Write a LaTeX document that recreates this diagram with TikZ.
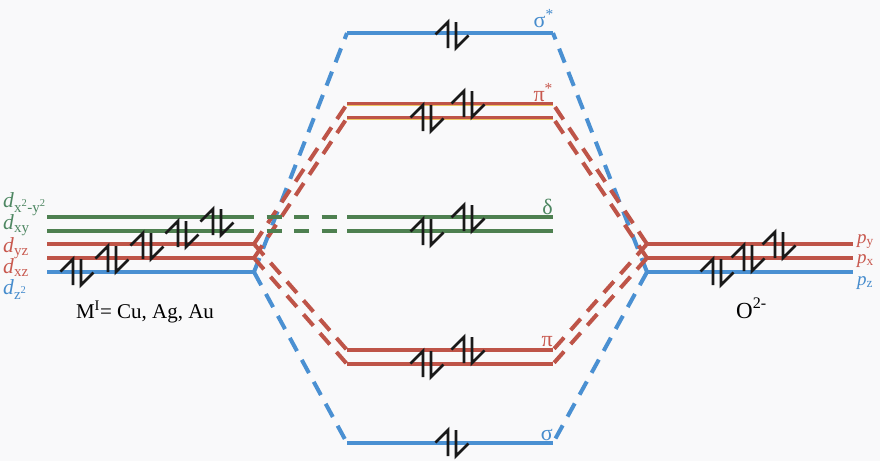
\documentclass[tikz,border=0pt]{standalone}
\usepackage{fontspec}
\setmainfont{Liberation Serif}
\definecolor{bgc}{RGB}{249,249,250}
\definecolor{obl}{RGB}{74,144,210}
\definecolor{ored}{RGB}{190,84,72}
\definecolor{ogr}{RGB}{78,128,80}
\definecolor{oyel}{RGB}{236,196,96}
\definecolor{tgr}{RGB}{78,135,98}
\definecolor{tred}{RGB}{200,88,78}
\definecolor{tbl}{RGB}{70,140,205}
\definecolor{ebk}{RGB}{25,25,25}
\tikzset{
  lvl/.style={line width=4pt},
  conn/.style={line width=4pt, dash pattern=on 15pt off 10pt},
  gconn/.style={line width=4pt, ogr, dash pattern=on 15pt off 12.5pt, dash phase=15pt},
  eline/.style={line width=2.7pt, ebk, line join=miter},
  pics/epair/.style={code={
    \draw[eline] (-4,13) -- (-4,-13) -- (-16.5,-0.5);
    \draw[eline] (4,-13) -- (4,13) -- (16.5,0.5);
  }},
  glab/.style={inner sep=0pt, font=\fontsize{22}{24}\selectfont, anchor=base east},
  olab/.style={inner sep=0pt, font=\fontsize{21.5}{23}\selectfont},
  plab/.style={inner sep=0pt, font=\fontsize{19}{21}\selectfont, anchor=base west},
  txt/.style={inner sep=0pt, font=\fontsize{21}{23}\selectfont},
}
\begin{document}
\begin{tikzpicture}[x=1pt,y=-1pt]
\fill[bgc] (0,0) rectangle (880,461);
\useasboundingbox (0,0) rectangle (880,461);
% left AO ends
\coordinate (Lx2s) at (47,217); \coordinate (Lx2) at (254,217);
\coordinate (Lxys) at (47,231); \coordinate (Lxy) at (254,231);
\coordinate (Lyzs) at (47,244); \coordinate (Lyz) at (254,244);
\coordinate (Lxzs) at (47,258); \coordinate (Lxz) at (254,258);
\coordinate (Lz2s) at (47,272); \coordinate (Lz2) at (254,272);
% MO ends
\coordinate (SSl) at (347,33);  \coordinate (SSr) at (553,33);
\coordinate (PSAl) at (347,104); \coordinate (PSAr) at (553,104);
\coordinate (PSBl) at (347,118); \coordinate (PSBr) at (553,118);
\coordinate (DAl) at (347,217); \coordinate (DAr) at (553,217);
\coordinate (DBl) at (347,231); \coordinate (DBr) at (553,231);
\coordinate (PAl) at (347,350); \coordinate (PAr) at (553,350);
\coordinate (PBl) at (347,364); \coordinate (PBr) at (553,364);
\coordinate (Sl) at (347,443);  \coordinate (Sr) at (553,443);
% right AO ends
\coordinate (Rys) at (853,244); \coordinate (Ry) at (647,244);
\coordinate (Rxs) at (853,258); \coordinate (Rx) at (647,258);
\coordinate (Rzs) at (853,272); \coordinate (Rz) at (647,272);

% dashed correlation lines
\draw[conn, obl] (Lz2) -- (SSl);
\draw[conn, obl] (Lz2) -- (Sl);
\draw[conn, obl] (Rz) -- (SSr);
\draw[conn, obl] (Rz) -- (Sr);
\draw[conn, ored] (Lyz) -- (PSAl);
\draw[conn, ored] (Lxz) -- (PSBl);
\draw[conn, ored] (Lyz) -- (PAl);
\draw[conn, ored] (Lxz) -- (PBl);
\draw[conn, ored] (Ry) -- (PSAr);
\draw[conn, ored] (Rx) -- (PSBr);
\draw[conn, ored] (Ry) -- (PAr);
\draw[conn, ored] (Rx) -- (PBr);
\draw[gconn] (Lx2) -- (DAl);
\draw[gconn] (Lxy) -- (DBl);

% levels
\draw[lvl, ogr] (Lx2s) -- (Lx2);
\draw[lvl, ogr] (Lxys) -- (Lxy);
\draw[lvl, ored] (Lyzs) -- (Lyz);
\draw[lvl, ored] (Lxzs) -- (Lxz);
\draw[lvl, obl] (Lz2s) -- (Lz2);
\draw[lvl, obl] (SSl) -- (SSr);
\draw[lvl, ored] (PSAl) -- (PSAr);
\draw[lvl, ored] (PSBl) -- (PSBr);
\draw[line width=1.4pt, oyel] ([yshift=-1.7pt]PSAl) -- ([yshift=-1.7pt]PSAr);
\draw[line width=1.4pt, oyel] ([yshift=-1.7pt]PSBl) -- ([yshift=-1.7pt]PSBr);
\draw[lvl, ogr] (DAl) -- (DAr);
\draw[lvl, ogr] (DBl) -- (DBr);
\draw[lvl, ored] (PAl) -- (PAr);
\draw[lvl, ored] (PBl) -- (PBr);
\draw[lvl, obl] (Sl) -- (Sr);
\draw[lvl, ored] (Ry) -- (Rys);
\draw[lvl, ored] (Rx) -- (Rxs);
\draw[lvl, obl] (Rz) -- (Rzs);

% electrons
\pic at (77,272) {epair};
\pic at (112,259) {epair};
\pic at (147,246) {epair};
\pic at (182,234) {epair};
\pic at (217,222) {epair};
\pic at (452,35) {epair};
\pic at (427,118) {epair};
\pic at (468,104) {epair};
\pic at (427,232) {epair};
\pic at (468,218) {epair};
\pic at (427,364) {epair};
\pic at (468,350) {epair};
\pic at (452,443) {epair};
\pic at (717,272) {epair};
\pic at (748,258) {epair};
\pic at (779,245) {epair};

% MO labels
\node[glab, text=tbl] (lss) at (554,27) {σ\textsuperscript{*}};
\node[glab, text=tred] (lps) at (553,101) {π\textsuperscript{*}};
\node[glab, text=tgr] (ld) at (553,214) {δ};
\node[glab, text=tred] (lp) at (553,346) {π};
\node[glab, text=tbl] (ls) at (553,440) {σ};

% AO labels
\node[olab, text=tgr, anchor=base west] (ldx2) at (3,207) {\textit{d}\textsubscript{x\textsuperscript{2}-y\textsuperscript{2}}};
\node[olab, text=tgr, anchor=base west] (ldxy) at (3,229) {\textit{d}\textsubscript{xy}};
\node[olab, text=tred, anchor=base west] (ldyz) at (3,252) {\textit{d}\textsubscript{yz}};
\node[olab, text=tred, anchor=base west] (ldxz) at (3,273) {\textit{d}\textsubscript{xz}};
\node[olab, text=tbl, anchor=base west] (ldz2) at (3,294) {\textit{d}\textsubscript{z\textsuperscript{2}}};
\node[plab, text=tred] (lpy) at (857,243) {\textit{p}\textsubscript{y}};
\node[plab, text=tred] (lpx) at (857,263) {\textit{p}\textsubscript{x}};
\node[plab, text=tbl] (lpz) at (857,285) {\textit{p}\textsubscript{z}};

\node[txt, anchor=base] (mlab) at (145,318) {M\textsuperscript{I}= Cu, Ag, Au};
\node[txt, anchor=base west, font=\fontsize{23}{25}\selectfont] (oxlab) at (736,318) {O\textsuperscript{2-}};
\end{tikzpicture}
\end{document}
